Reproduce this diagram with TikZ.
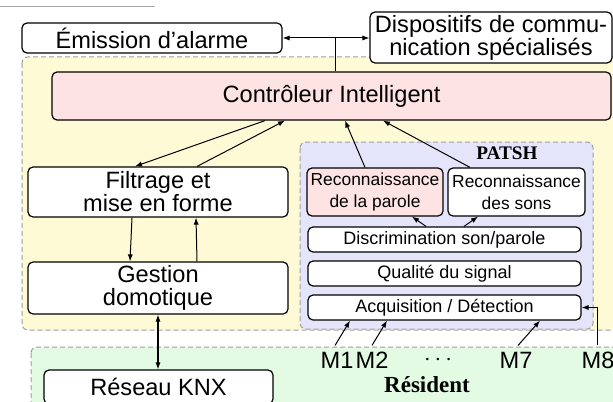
\documentclass[tikz,border=0pt]{standalone}
\usepackage{fontspec}
\setmainfont{Liberation Sans}
\newfontfamily\titlefont{Liberation Serif}
\usetikzlibrary{arrows.meta}
\definecolor{zoneyellow}{RGB}{255,250,214}
\definecolor{zoneblue}{RGB}{228,228,251}
\definecolor{zonegreen}{RGB}{226,251,226}
\definecolor{pinkbox}{RGB}{253,227,227}

\begin{document}
\begin{tikzpicture}[x=0.5pt,y=-0.5pt,
  >={Latex[length=3.5pt,width=2.6pt]},
  box/.style={rectangle,draw,fill=white,rounded corners=2.5pt,line width=0.6pt,inner sep=1pt,align=center,font=\fontsize{11.8}{11.5}\selectfont},
  smallbox/.style={box,font=\fontsize{9}{11}\selectfont},
  zone/.style={draw=gray!75,dash pattern=on 2.5pt off 1.5pt,rounded corners=3pt,line width=0.5pt},
  link/.style={->,line width=0.5pt},
  label/.style={inner sep=3pt,font=\fontsize{11.8}{11.5}\selectfont}]
\useasboundingbox (0,0) rectangle (613,401);
\clip (0,0) rectangle (613,401);
\draw[gray!70,line width=0.5pt] (0,7) -- (155,7);
\draw[zone,fill=zoneyellow] (22,57) rectangle (640,330);
\draw[zone,fill=zoneblue] (300,142) rectangle (593,329);
\draw[zone,fill=zonegreen] (31,347) rectangle (640,430);
\node[box,minimum width=130pt,minimum height=15pt] (emission) at (152,38) {Émission d’alarme};
\node[box,minimum width=121pt,minimum height=25.5pt] (dispositifs) at (491,37.5) {Dispositifs de commu-\\nication spécialisés};
\node[box,fill=pinkbox,minimum width=279.5pt,minimum height=24pt] (controleur) at (331.5,96) {Contrôleur Intelligent};
\node[box,minimum width=130pt,minimum height=25pt] (filtrage) at (158,192) {Filtrage et\\mise en forme};
\node[box,minimum width=130pt,minimum height=26pt] (gestion) at (158,288) {Gestion\\domotique};
\node[box,minimum width=114.5pt,minimum height=17pt] (knx) at (158.5,387) {Réseau KNX};
\node[font=\titlefont\bfseries\fontsize{9.6}{11}\selectfont] (patsh) at (507,153) {PATSH};
\node[smallbox,fill=pinkbox,minimum width=68pt,minimum height=24pt,font=\fontsize{8.7}{11}\selectfont] (parole) at (375,192) {Reconnaissance\\de la parole};
\node[smallbox,minimum width=68.5pt,minimum height=24pt,font=\fontsize{8.7}{11}\selectfont] (sons) at (516.5,192) {Reconnaissance\\des sons};
\node[smallbox,minimum width=136.5pt,minimum height=12.5pt] (disc) at (444.5,239.5) {Discrimination son/parole};
\node[smallbox,minimum width=136.5pt,minimum height=12.5pt] (qual) at (444.5,273.5) {Qualité du signal};
\node[smallbox,minimum width=136.5pt,minimum height=12.5pt] (acq) at (444.5,307.5) {Acquisition / Détection};
\node[label] (m1) at (337,360) {M1};
\node[label] (m2) at (372,360) {M2};
\node[label] (mdots) at (438,360) {$\cdots$};
\node[label] (m7) at (516,360) {M7};
\node[label] (m8) at (598,360) {M8};
\node[font=\titlefont\bfseries\fontsize{11.5}{13}\selectfont] (resident) at (427,385) {Résident};
\coordinate (hub) at ([xshift=1.75pt]controleur.north |- emission.east);
\draw[line width=0.5pt] ([xshift=1.75pt]controleur.north) -- (hub);
\draw[link] (hub) -- (emission.east);
\draw[link] (hub) -- (dispositifs.west |- hub);
\draw[link] ([xshift=-33.25pt]controleur.south) -- ([xshift=-11.5pt]filtrage.north);
\draw[link] ([xshift=19.5pt]filtrage.north) -- ([xshift=-23.25pt]controleur.south);
\draw[link] ([xshift=-13pt]filtrage.south) -- ([xshift=-14pt]gestion.north);
\draw[link] ([xshift=19.5pt]gestion.north) -- ([xshift=19pt]filtrage.south);
\draw[<->,line width=0.6pt] (gestion.south) -- (gestion.south |- knx.north);
\draw[link] ([xshift=-5pt]parole.north) -- ([xshift=6.75pt]controleur.south);
\draw[link] ([xshift=-23.25pt]sons.north) -- ([xshift=25.75pt]controleur.south);
\draw[link] ([xshift=-9.25pt]disc.north) -- ([xshift=18.5pt]parole.south);
\draw[link] ([xshift=9.75pt]disc.north) -- ([xshift=-19.25pt]sons.south);
\draw[link] ([xshift=-1pt]m1.north) -- ([xshift=-47.25pt]acq.south);
\draw[link] (m2.north) -- ([xshift=-28.75pt]acq.south);
\draw[link] ([xshift=1pt]m7.north) -- ([xshift=47.75pt]acq.south);
\draw[link] ([xshift=-0.5pt]m8.north) |- (acq.east);
\end{tikzpicture}
\end{document}
